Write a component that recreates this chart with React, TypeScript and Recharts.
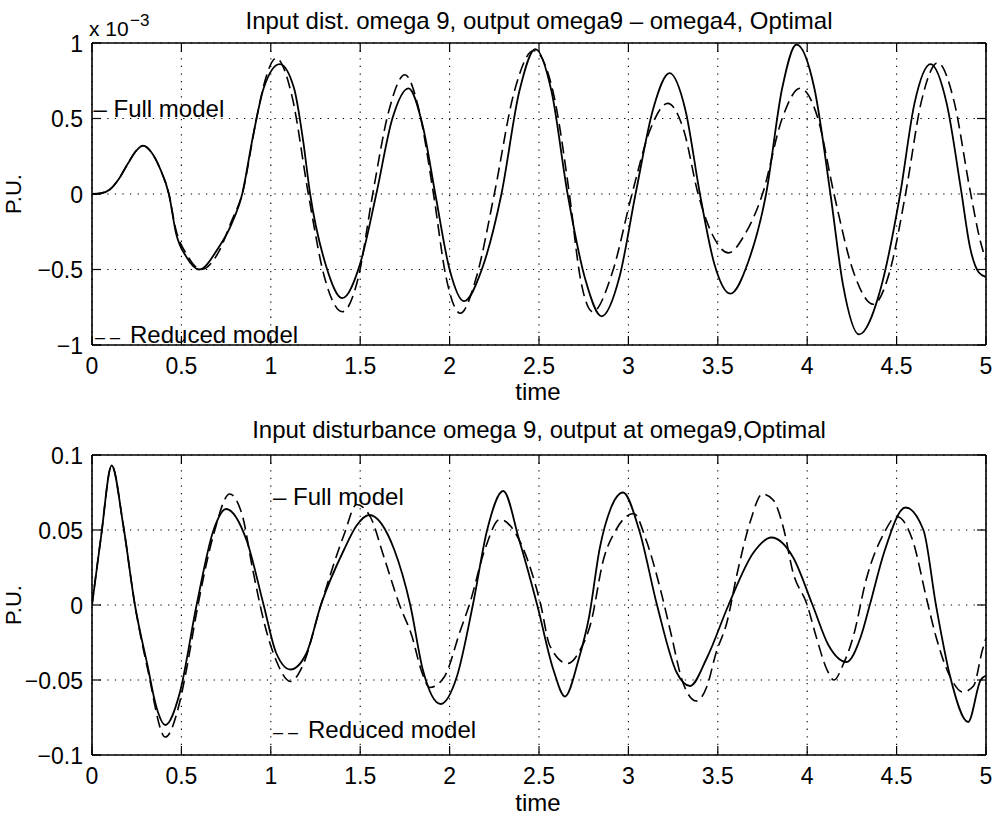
import React from 'react';
import { LineChart, Line, XAxis, YAxis, CartesianGrid, ReferenceLine } from 'recharts';

const FONT = '"Liberation Sans", Arial, Helvetica, sans-serif';

// ---------- axis ticks ----------
const xTicks = [0, 0.5, 1, 1.5, 2, 2.5, 3, 3.5, 4, 4.5, 5];
const xTickLabels = ['0', '0.5', '1', '1.5', '2', '2.5', '3', '3.5', '4', '4.5', '5'];
const topYTicks = [-1, -0.5, 0, 0.5, 1];
const topYTickLabels = ['\u22121', '\u22120.5', '0', '0.5', '1'];
const botYTicks = [-0.1, -0.05, 0, 0.05, 0.1];
const botYTickLabels = ['\u22120.1', '\u22120.05', '0', '0.05', '0.1'];

// ---------- top panel (values in units of 1e-3) ----------
const topFullT = [0, 0.05, 0.1, 0.15, 0.2, 0.25, 0.285, 0.33, 0.38, 0.43, 0.47, 0.53, 0.6, 0.7, 0.78, 0.84, 0.9, 0.96, 1.05, 1.13, 1.18, 1.22, 1.31, 1.4, 1.5, 1.59, 1.68, 1.77, 1.85, 1.92, 2.0, 2.08, 2.18, 2.29, 2.39, 2.48, 2.57, 2.66, 2.76, 2.85, 2.95, 3.04, 3.14, 3.23, 3.32, 3.4, 3.48, 3.57, 3.67, 3.77, 3.86, 3.94, 4.04, 4.13, 4.2, 4.29, 4.41, 4.52, 4.6, 4.69, 4.78, 4.86, 4.91, 4.96, 5.0];
const topFullV = [0, 0.005, 0.03, 0.1, 0.2, 0.29, 0.32, 0.28, 0.17, 0, -0.26, -0.42, -0.5, -0.37, -0.2, 0, 0.38, 0.7, 0.86, 0.7, 0.36, 0, -0.48, -0.69, -0.46, 0, 0.5, 0.7, 0.45, 0, -0.5, -0.71, -0.5, 0, 0.68, 0.96, 0.68, 0, -0.57, -0.81, -0.55, 0, 0.57, 0.8, 0.55, 0, -0.46, -0.66, -0.45, 0, 0.7, 0.99, 0.7, 0, -0.6, -0.93, -0.63, 0, 0.6, 0.86, 0.6, 0.03, -0.35, -0.52, -0.55];
const topRedT = [0, 0.05, 0.1, 0.15, 0.2, 0.25, 0.285, 0.33, 0.38, 0.43, 0.47, 0.53, 0.61, 0.71, 0.78, 0.84, 0.92, 0.97, 1.03, 1.12, 1.21, 1.3, 1.4, 1.49, 1.57, 1.66, 1.75, 1.83, 1.91, 1.98, 2.06, 2.15, 2.25, 2.36, 2.47, 2.58, 2.67, 2.73, 2.8, 2.91, 3.02, 3.12, 3.22, 3.31, 3.39, 3.47, 3.56, 3.65, 3.75, 3.86, 3.96, 4.06, 4.15, 4.26, 4.37, 4.46, 4.55, 4.64, 4.73, 4.82, 4.91, 4.97, 5.0];
const topRedV = [0, 0.005, 0.03, 0.1, 0.2, 0.29, 0.32, 0.28, 0.17, 0, -0.24, -0.4, -0.5, -0.38, -0.18, 0, 0.5, 0.76, 0.9, 0.64, 0, -0.55, -0.78, -0.55, 0, 0.55, 0.79, 0.55, 0, -0.55, -0.79, -0.55, 0, 0.67, 0.95, 0.67, 0, -0.55, -0.78, -0.52, 0, 0.42, 0.6, 0.42, 0, -0.27, -0.39, -0.27, 0, 0.5, 0.7, 0.5, 0, -0.52, -0.73, -0.52, 0, 0.62, 0.87, 0.62, 0.03, -0.32, -0.44];

// ---------- bottom panel ----------
const botFullT = [0, 0.05, 0.11, 0.175, 0.24, 0.31, 0.36, 0.41, 0.49, 0.585, 0.68, 0.75, 0.865, 0.96, 1.03, 1.11, 1.2, 1.28, 1.41, 1.48, 1.55, 1.69, 1.78, 1.85, 1.95, 2.04, 2.13, 2.21, 2.3, 2.39, 2.49, 2.58, 2.645, 2.72, 2.78, 2.84, 2.9, 2.97, 3.06, 3.16, 3.27, 3.345, 3.44, 3.56, 3.7, 3.8, 3.92, 4.03, 4.12, 4.22, 4.3, 4.35, 4.43, 4.55, 4.65, 4.72, 4.8, 4.9, 4.97, 5.0];
const botFullV = [0, 0.045, 0.093, 0.053, 0, -0.04, -0.068, -0.08, -0.059, 0, 0.05, 0.064, 0.043, 0, -0.032, -0.043, -0.032, 0, 0.037, 0.053, 0.06, 0.037, 0, -0.043, -0.066, -0.048, 0, 0.05, 0.076, 0.043, 0, -0.043, -0.061, -0.037, -0.008, 0.038, 0.064, 0.075, 0.05, 0, -0.045, -0.054, -0.035, 0, 0.035, 0.045, 0.032, 0, -0.027, -0.038, -0.021, 0, 0.035, 0.065, 0.05, 0, -0.048, -0.078, -0.05, -0.047];
const botRedT = [0, 0.05, 0.11, 0.175, 0.24, 0.31, 0.41, 0.49, 0.53, 0.585, 0.68, 0.77, 0.84, 0.9, 0.97, 1.03, 1.11, 1.18, 1.28, 1.41, 1.48, 1.56, 1.63, 1.72, 1.79, 1.84, 1.89, 1.97, 2.06, 2.11, 2.2, 2.28, 2.41, 2.51, 2.56, 2.66, 2.73, 2.79, 2.86, 2.93, 3.03, 3.1, 3.18, 3.24, 3.3, 3.38, 3.44, 3.49, 3.55, 3.61, 3.68, 3.75, 3.81, 3.87, 3.92, 4.0, 4.05, 4.11, 4.15, 4.2, 4.26, 4.33, 4.43, 4.5, 4.59, 4.67, 4.72, 4.8, 4.87, 4.93, 4.98, 5.0];
const botRedV = [0, 0.045, 0.093, 0.053, 0, -0.042, -0.088, -0.065, -0.042, -0.005, 0.047, 0.074, 0.06, 0.023, -0.015, -0.037, -0.051, -0.04, 0, 0.047, 0.067, 0.058, 0.033, 0, -0.021, -0.043, -0.055, -0.048, -0.017, 0, 0.038, 0.057, 0.038, 0, -0.027, -0.039, -0.03, -0.012, 0.03, 0.05, 0.061, 0.043, 0.01, -0.02, -0.05, -0.064, -0.054, -0.032, -0.012, 0.022, 0.055, 0.074, 0.07, 0.05, 0.022, 0, -0.021, -0.043, -0.05, -0.04, -0.02, 0.017, 0.048, 0.059, 0.043, 0.003, -0.021, -0.048, -0.058, -0.054, -0.03, -0.022];

const toRows = (t: number[], v: number[]) => t.map((x, i) => ({ t: x, v: v[i] }));

const W = 997;
const PANEL_H = 409;
const PLOT_LEFT = 92;
const PLOT_RIGHT = 986;
const X_AXIS_H = 30;
const Y_AXIS_W = 60;
const TICK_LEN = 9;

type PanelProps = {
  top: number;
  plotTop: number;
  plotBottom: number;
  yDomain: [number, number];
  yTicks: number[];
  yLabels: string[];
  full: { t: number; v: number }[];
  reduced: { t: number; v: number }[];
};

function labelFor(ticks: number[], labels: string[], val: number) {
  const i = ticks.findIndex((t) => Math.abs(t - val) < 1e-9);
  return i >= 0 ? labels[i] : String(val);
}

function Panel({ top, plotTop, plotBottom, yDomain, yTicks, yLabels, full, reduced }: PanelProps) {
  const margin = {
    top: plotTop,
    right: W - PLOT_RIGHT,
    bottom: PANEL_H - plotBottom - X_AXIS_H,
    left: PLOT_LEFT - Y_AXIS_W,
  };

  const renderXTick = (p: any) => {
    const { x, y, payload } = p;
    return (
      <g>
        <line x1={x} y1={y} x2={x} y2={y - TICK_LEN} stroke="#000" strokeWidth={1.2} />
        <line x1={x} y1={plotTop} x2={x} y2={plotTop + TICK_LEN} stroke="#000" strokeWidth={1.2} />
        <text x={x} y={y + 29} textAnchor="middle" fontSize={23} fontFamily={FONT} fill="#000">
          {labelFor(xTicks, xTickLabels, payload.value)}
        </text>
      </g>
    );
  };

  const renderYTick = (p: any) => {
    const { x, y, payload } = p;
    return (
      <g>
        <line x1={x} y1={y} x2={x + TICK_LEN} y2={y} stroke="#000" strokeWidth={1.2} />
        <line x1={PLOT_RIGHT} y1={y} x2={PLOT_RIGHT - TICK_LEN} y2={y} stroke="#000" strokeWidth={1.2} />
        <text x={x - 9} y={y + 8.5} textAnchor="end" fontSize={23} fontFamily={FONT} fill="#000">
          {labelFor(yTicks, yLabels, payload.value)}
        </text>
      </g>
    );
  };

  return (
    <div style={{ position: 'absolute', left: 0, top, width: W, height: PANEL_H }}>
      <LineChart width={W} height={PANEL_H} margin={margin}>
        <CartesianGrid stroke="#000" strokeWidth={1.1} strokeDasharray="1.3 6.3" />
        <XAxis
          type="number"
          dataKey="t"
          domain={[0, 5]}
          ticks={xTicks}
          interval={0}
          tickSize={0}
          tickMargin={0}
          height={X_AXIS_H}
          allowDataOverflow
          axisLine={{ stroke: '#000', strokeWidth: 1.6 }}
          tickLine={false}
          tick={renderXTick}
        />
        <YAxis
          type="number"
          domain={yDomain}
          ticks={yTicks}
          interval={0}
          tickSize={0}
          tickMargin={0}
          width={Y_AXIS_W}
          allowDataOverflow
          axisLine={{ stroke: '#000', strokeWidth: 1.6 }}
          tickLine={false}
          tick={renderYTick}
        />
        <ReferenceLine y={yDomain[1]} stroke="#000" strokeWidth={1.6} />
        <ReferenceLine x={5} stroke="#000" strokeWidth={1.6} />
        <Line
          data={reduced}
          dataKey="v"
          type="monotone"
          stroke="#000"
          strokeWidth={1.6}
          strokeDasharray="12 6"
          dot={false}
          activeDot={false}
          isAnimationActive={false}
        />
        <Line
          data={full}
          dataKey="v"
          type="monotone"
          stroke="#000"
          strokeWidth={1.8}
          dot={false}
          activeDot={false}
          isAnimationActive={false}
        />
      </LineChart>
    </div>
  );
}

function ReducedLabel({ x, y }: { x: number; y: number }) {
  return (
    <text y={y} fontSize={24} fontFamily={FONT} fill="#000">
      <tspan x={x} fontSize={18}>–</tspan>
      <tspan x={x + 15} fontSize={18}>–</tspan>
      <tspan x={x + 35}>Reduced model</tspan>
    </text>
  );
}

export default function App() {
  const txt = { fontFamily: FONT, fill: '#000' } as const;
  return (
    <div style={{ position: 'absolute', left: 0, top: 0, width: W, height: 818, background: '#fff' }}>
      <Panel
        top={0}
        plotTop={43}
        plotBottom={345}
        yDomain={[-1, 1]}
        yTicks={topYTicks}
        yLabels={topYTickLabels}
        full={toRows(topFullT, topFullV)}
        reduced={toRows(topRedT, topRedV)}
      />
      <Panel
        top={409}
        plotTop={46}
        plotBottom={346}
        yDomain={[-0.1, 0.1]}
        yTicks={botYTicks}
        yLabels={botYTickLabels}
        full={toRows(botFullT, botFullV)}
        reduced={toRows(botRedT, botRedV)}
      />
      <svg
        width={W}
        height={818}
        style={{ position: 'absolute', left: 0, top: 0, pointerEvents: 'none' }}
      >
        <text x={539} y={28.5} textAnchor="middle" fontSize={24} {...txt}>
          Input dist. omega 9, output omega9 – omega4, Optimal
        </text>
        <text x={539} y={438} textAnchor="middle" fontSize={24} {...txt}>
          Input disturbance omega 9, output at omega9,Optimal
        </text>
        <text x={89} y={36} fontSize={21} {...txt}>x 10</text>
        <text x={130} y={26} fontSize={17} {...txt}>{'\u22123'}</text>
        <text x={538} y={400} textAnchor="middle" fontSize={24} {...txt}>time</text>
        <text x={538} y={811} textAnchor="middle" fontSize={24} {...txt}>time</text>
        <text x={21} y={194} textAnchor="middle" fontSize={22} transform="rotate(-90 21 194)" {...txt}>P.U.</text>
        <text x={21} y={605} textAnchor="middle" fontSize={22} transform="rotate(-90 21 605)" {...txt}>P.U.</text>
        <text x={93.5} y={117} fontSize={24} {...txt}>– Full model</text>
        <ReducedLabel x={95} y={343} />
        <text x={273} y={505} fontSize={24} {...txt}>– Full model</text>
        <ReducedLabel x={273} y={738} />
      </svg>
    </div>
  );
}
